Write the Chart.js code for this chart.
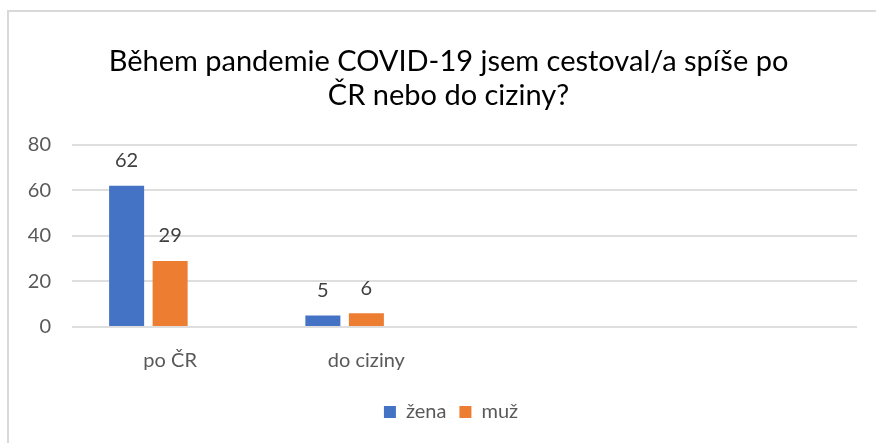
<!DOCTYPE html>
<html>
<head>
<meta charset="utf-8">
<script src="https://cdn.jsdelivr.net/npm/chart.js@4"></script>
<style>
  html, body { margin: 0; padding: 0; background: #fff; overflow: hidden; }
  #frame {
    position: absolute; left: 7px; top: 10px; width: 900px; height: 460px;
    border-left: 2px solid #d9d9d9; border-top: 2px solid #d9d9d9;
  }
  #wrap { position: absolute; left: 0; top: 0; width: 876px; height: 443px; }
</style>
</head>
<body>
<div id="frame"></div>
<div id="wrap"><canvas id="chart"></canvas></div>
<script>
// ── Data ───────────────────────────────────────────────────────────
const categories = ['po ČR', 'do ciziny', '', ''];
const zenaValues = [62, 5, null, null];
const muzValues = [29, 6, null, null];
const emptyValues = [null, null, null, null];   // spare series slot, never shown
const yTicks = [0, 20, 40, 60, 80];

const FONT = 'Lato, "Open Sans", sans-serif';

// ── Value labels above bars ────────────────────────────────────────
const barLabels = {
  id: 'barLabels',
  afterDatasetsDraw(chart) {
    const ctx = chart.ctx;
    ctx.save();
    ctx.font = '20px ' + FONT;
    ctx.fillStyle = '#404040';
    ctx.textAlign = 'center';
    ctx.textBaseline = 'middle';
    chart.data.datasets.forEach(function (ds, i) {
      const meta = chart.getDatasetMeta(i);
      meta.data.forEach(function (bar, j) {
        const v = ds.data[j];
        if (v === null || v === undefined) return;
        ctx.fillText(String(v), bar.x, bar.y - 25);
      });
    });
    ctx.restore();
  }
};

// ── Center title and legend a bit to the right (like the original) ─
const shiftBlocks = {
  id: 'shiftBlocks',
  afterLayout(chart) {
    if (chart.titleBlock) chart.titleBlock.left = 40;
    if (chart.legend) chart.legend.left = 45;
  }
};

new Chart(document.getElementById('chart'), {
  type: 'bar',
  data: {
    labels: categories,
    datasets: [
      { label: 'žena', data: zenaValues, backgroundColor: '#4472C4' },
      { label: 'muž', data: muzValues, backgroundColor: '#ED7D31' },
      { label: '', data: emptyValues, backgroundColor: 'transparent' },
    ],
  },
  options: {
    responsive: true,
    maintainAspectRatio: false,
    animation: false,
    layout: { padding: { left: 0, right: 19, top: 0, bottom: 11 } },
    datasets: { bar: { categoryPercentage: 0.665, barPercentage: 0.805 } },
    plugins: {
      title: {
        display: true,
        text: ['Během pandemie COVID-19 jsem cestoval/a spíše po', 'ČR nebo do ciziny?'],
        color: '#000',
        font: { family: FONT, size: 29, weight: 'normal', lineHeight: 1.17 },
        padding: { top: 45, bottom: 32 },
      },
      legend: {
        position: 'bottom',
        labels: {
          color: '#595959',
          font: { family: FONT, size: 20 },
          boxWidth: 12,
          boxHeight: 12,
          padding: 13,
          filter: function (item) { return item.text !== ''; },
        },
      },
      tooltip: { enabled: false },
    },
    scales: {
      x: {
        grid: { display: false },
        border: { display: false },
        ticks: { color: '#595959', font: { family: FONT, size: 20 }, padding: 14 },
        afterFit: function (scale) { scale.height = 62; },
      },
      y: {
        min: 0,
        max: 80,
        afterBuildTicks: function (scale) {
          scale.ticks = yTicks.map(function (v) { return { value: v }; });
        },
        grid: { color: '#dedede', lineWidth: 2, drawTicks: false },
        border: { display: false },
        ticks: { color: '#595959', font: { family: FONT, size: 20 }, padding: 21 },
        afterFit: function (scale) { scale.width = 72; },
      },
    },
  },
  plugins: [barLabels, shiftBlocks],
});
</script>
</body>
</html>
